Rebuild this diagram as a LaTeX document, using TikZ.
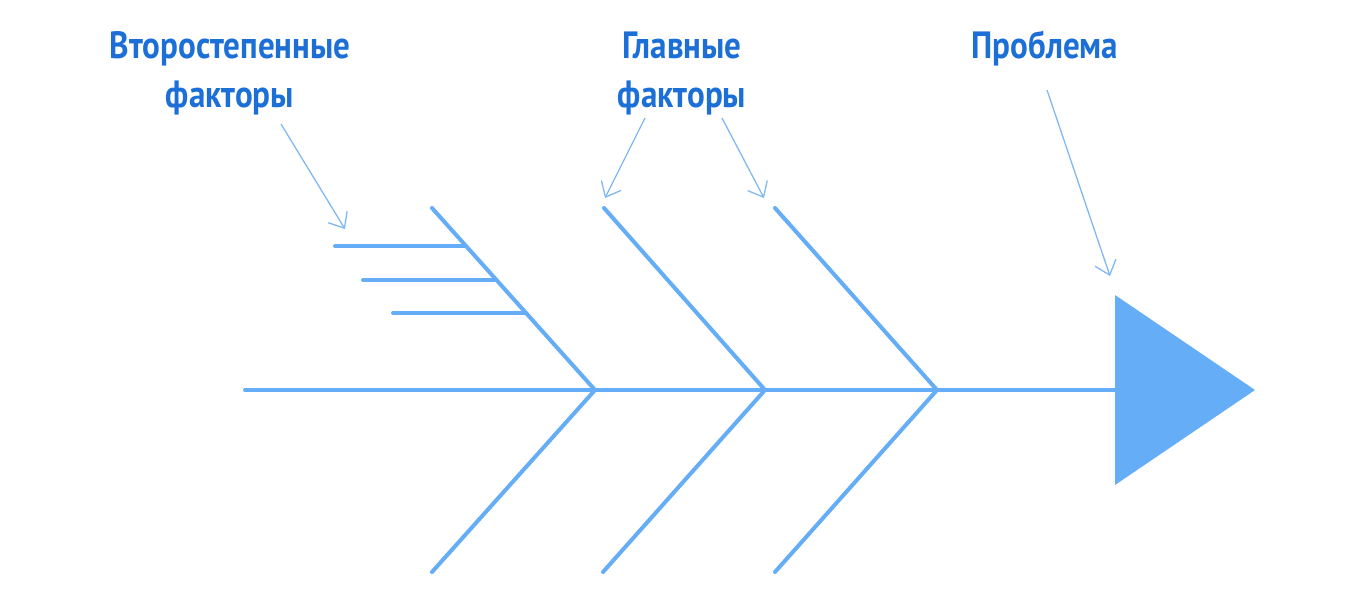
\documentclass[tikz,border=0pt]{standalone}
\usepackage{fontspec}
\setmainfont{PT Sans}
\newfontfamily\handfont[FakeStretch=0.87]{PT Sans}
\usetikzlibrary{arrows.meta}
\definecolor{txtblue}{HTML}{1C6FD6}
\definecolor{bone}{HTML}{66ADF7}
\definecolor{pointer}{HTML}{82B8F0}
\tikzset{
  label/.style={text=txtblue, font=\handfont\bfseries\fontsize{38}{49}\selectfont, align=center, inner sep=0pt},
  bonestyle/.style={draw=bone, line width=4pt, line cap=round},
  pointerarrow/.style={draw=pointer, line width=1.3pt, -{Straight Barb[length=13pt,width=22pt,line width=1.3pt]}}
}
\begin{document}
\begin{tikzpicture}[x=1pt,y=-1pt]
\useasboundingbox (0,0) rectangle (1352,592);
% coordinates
\coordinate (tail) at (245,390);
\coordinate (j1) at (595,390);
\coordinate (j2) at (765,390);
\coordinate (j3) at (937,390);
\coordinate (head) at (1115,390);
\coordinate (t1) at (432,208);
\coordinate (t2) at (604,208);
\coordinate (t3) at (775,208);
\coordinate (b1) at (432,572);
\coordinate (b2) at (603,572);
\coordinate (b3) at (775,572);
\coordinate (s1a) at (335,246); \coordinate (s1b) at (465,246);
\coordinate (s2a) at (363,280); \coordinate (s2b) at (496,280);
\coordinate (s3a) at (393,313); \coordinate (s3b) at (526,313);
% spine and bones
\draw[bonestyle] (tail) -- (head);
\draw[bonestyle] (t1) -- (j1) -- (b1);
\draw[bonestyle] (t2) -- (j2) -- (b2);
\draw[bonestyle] (t3) -- (j3) -- (b3);
\draw[bonestyle] (s1a) -- (s1b);
\draw[bonestyle] (s2a) -- (s2b);
\draw[bonestyle] (s3a) -- (s3b);
% head
\fill[bone] (1115,295) -- (1255,390) -- (1115,485) -- cycle;
% labels
\node[label] (sec) at (230,73) {Второстепенные\\факторы};
\node[label] (main) at (682,73) {Главные\\факторы};
\node[label] (prob) at (1045,48) {Проблема};
% pointers
\coordinate (sp1) at (281,124); \coordinate (se1) at (345,229);
\coordinate (mp1) at (645,118); \coordinate (me1) at (605,198);
\coordinate (mp2) at (722,118); \coordinate (me2) at (764,198);
\coordinate (pp1) at (1047,90); \coordinate (pe1) at (1110,276);
\draw[pointerarrow] (sp1) -- (se1);
\draw[pointerarrow] (mp1) -- (me1);
\draw[pointerarrow] (mp2) -- (me2);
\draw[pointerarrow] (pp1) -- (pe1);
\end{tikzpicture}
\end{document}
